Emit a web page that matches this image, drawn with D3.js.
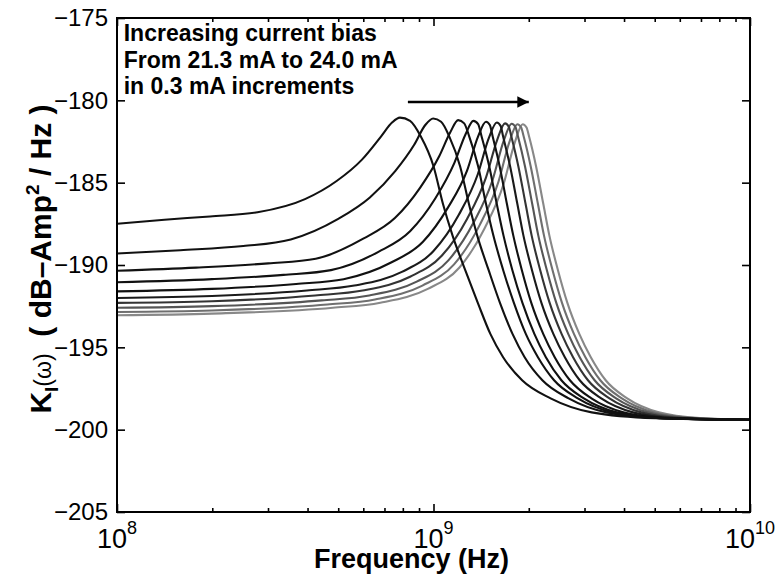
<!DOCTYPE html>
<html>
<head>
<meta charset="utf-8">
<script src="https://cdn.jsdelivr.net/npm/d3@7"></script>
<style>
  body { margin: 0; background: #fff; }
  text { font-family: Arial, "Liberation Sans", Helvetica, sans-serif; fill: #000; }
</style>
</head>
<body>
<div id="chart"></div>
<script>
// bias currents, one curve each (mA)
var biasMA = [21.3, 21.6, 21.9, 22.2, 22.5, 22.8, 23.1, 23.4, 23.7, 24.0];

// log10 of frequency (Hz) for each curve
var logFreq = [
  [8.0, 8.15, 8.294, 8.444, 8.594, 8.694, 8.774, 8.834, 8.869, 8.894, 8.926, 8.96, 9.0, 9.03, 9.06, 9.10, 9.14, 9.18, 9.22, 9.28, 9.37, 9.5, 9.7, 10],
  [8.0, 8.2, 8.399, 8.549, 8.699, 8.799, 8.879, 8.939, 8.974, 8.999, 9.024, 9.05, 9.084, 9.112, 9.138, 9.174, 9.21, 9.25, 9.288, 9.344, 9.427, 9.547, 9.724, 10],
  [8.0, 8.25, 8.478, 8.628, 8.778, 8.878, 8.958, 9.018, 9.053, 9.078, 9.097, 9.113, 9.141, 9.166, 9.189, 9.22, 9.254, 9.292, 9.33, 9.381, 9.456, 9.566, 9.719, 10],
  [8.0, 8.3, 8.526, 8.676, 8.826, 8.926, 9.006, 9.066, 9.101, 9.126, 9.141, 9.152, 9.176, 9.2, 9.221, 9.249, 9.281, 9.319, 9.355, 9.404, 9.475, 9.579, 9.718, 10],
  [8.0, 8.3, 8.566, 8.716, 8.866, 8.966, 9.046, 9.106, 9.141, 9.166, 9.178, 9.187, 9.209, 9.232, 9.252, 9.279, 9.309, 9.347, 9.383, 9.431, 9.499, 9.6, 9.731, 10],
  [8.0, 8.3, 8.6, 8.75, 8.9, 9.0, 9.08, 9.14, 9.175, 9.2, 9.212, 9.22, 9.242, 9.265, 9.284, 9.311, 9.341, 9.379, 9.415, 9.462, 9.53, 9.63, 9.76, 10],
  [8.0, 8.3, 8.626, 8.776, 8.926, 9.026, 9.106, 9.166, 9.201, 9.226, 9.238, 9.246, 9.268, 9.291, 9.31, 9.337, 9.367, 9.405, 9.441, 9.488, 9.556, 9.656, 9.786, 10],
  [8.0, 8.3, 8.647, 8.797, 8.947, 9.047, 9.127, 9.187, 9.222, 9.247, 9.259, 9.267, 9.289, 9.312, 9.331, 9.358, 9.388, 9.426, 9.462, 9.509, 9.577, 9.677, 9.807, 10],
  [8.0, 8.3, 8.665, 8.815, 8.965, 9.065, 9.145, 9.205, 9.24, 9.265, 9.277, 9.285, 9.307, 9.33, 9.349, 9.376, 9.406, 9.444, 9.48, 9.527, 9.595, 9.695, 9.825, 10],
  [8.0, 8.3, 8.682, 8.832, 8.982, 9.082, 9.162, 9.222, 9.257, 9.282, 9.294, 9.302, 9.324, 9.347, 9.366, 9.393, 9.423, 9.461, 9.497, 9.544, 9.612, 9.712, 9.842, 10]
];

// K_I(w) in dB-Amp^2/Hz, same order as logFreq
var kdB = [
  [-187.5, -187.25, -187.05, -186.8, -186.0, -184.9, -183.6, -182.2, -181.35, -181.05, -181.25, -182.2, -184.0, -186.3, -188.2, -190.3, -192.3, -194.2, -195.6, -197.0, -198.1, -198.95, -199.3, -199.4],
  [-189.3, -189.1, -188.85, -188.45, -187.2, -185.9, -184.3, -182.7, -181.5, -181.1, -181.3, -182.2, -184.0, -186.3, -188.2, -190.3, -192.3, -194.2, -195.6, -197.0, -198.1, -198.95, -199.3, -199.4],
  [-190.35, -190.16, -189.9, -189.62, -188.4, -187.15, -185.3, -183.4, -181.94, -181.2, -181.4, -182.2, -184.0, -186.3, -188.2, -190.3, -192.3, -194.2, -195.6, -197.0, -198.1, -198.95, -199.3, -199.4],
  [-191.05, -190.86, -190.6, -190.31, -189.2, -187.95, -185.95, -183.8, -182.07, -181.25, -181.45, -182.2, -184.0, -186.3, -188.2, -190.3, -192.3, -194.2, -195.6, -197.0, -198.1, -198.95, -199.3, -199.4],
  [-191.6, -191.45, -191.15, -190.86, -189.85, -188.6, -186.5, -184.27, -182.19, -181.3, -181.5, -182.2, -184.0, -186.3, -188.2, -190.3, -192.3, -194.2, -195.6, -197.0, -198.1, -198.95, -199.3, -199.4],
  [-192.0, -191.88, -191.55, -191.25, -190.42, -189.15, -186.95, -184.49, -182.28, -181.35, -181.55, -182.2, -184.0, -186.3, -188.2, -190.3, -192.3, -194.2, -195.6, -197.0, -198.1, -198.95, -199.3, -199.4],
  [-192.3, -192.2, -191.85, -191.55, -190.71, -189.44, -187.2, -184.68, -182.41, -181.4, -181.6, -182.2, -184.0, -186.3, -188.2, -190.3, -192.3, -194.2, -195.6, -197.0, -198.1, -198.95, -199.3, -199.4],
  [-192.6, -192.5, -192.15, -191.85, -191.01, -189.72, -187.41, -184.82, -182.45, -181.42, -181.62, -182.2, -184.0, -186.3, -188.2, -190.3, -192.3, -194.2, -195.6, -197.0, -198.1, -198.95, -199.3, -199.4],
  [-192.85, -192.76, -192.4, -192.09, -191.25, -189.96, -187.61, -184.96, -182.52, -181.45, -181.65, -182.2, -184.0, -186.3, -188.2, -190.3, -192.3, -194.2, -195.6, -197.0, -198.1, -198.95, -199.3, -199.4],
  [-193.05, -192.95, -192.6, -192.29, -191.45, -190.15, -187.75, -185.05, -182.55, -181.45, -181.65, -182.2, -184.0, -186.3, -188.2, -190.3, -192.3, -194.2, -195.6, -197.0, -198.1, -198.95, -199.3, -199.4]
];

var curveColors = ["#111", "#111", "#111", "#111", "#111", "#1a1a1a", "#333", "#555", "#6f6f6f", "#888"];

var yTicks = [-205, -200, -195, -190, -185, -180, -175];
var xMajor = [1e8, 1e9, 1e10];
var xMajorExp = ["8", "9", "10"];
var xMinor = [2e8, 3e8, 4e8, 5e8, 6e8, 7e8, 8e8, 9e8, 2e9, 3e9, 4e9, 5e9, 6e9, 7e9, 8e9, 9e9];

var noteLines = ["Increasing current bias", "From 21.3 mA to 24.0 mA", "in 0.3 mA increments"];

var margin = {top: 18, right: 28, bottom: 63, left: 117},
    width = 778 - margin.left - margin.right,
    height = 575 - margin.top - margin.bottom;

var x = d3.scaleLog().domain([1e8, 1e10]).range([0, width]);
var y = d3.scaleLinear().domain([-205, -175]).range([height, 0]);

var svg = d3.select("#chart").append("svg")
    .attr("width", width + margin.left + margin.right)
    .attr("height", height + margin.top + margin.bottom)
  .append("g")
    .attr("transform", "translate(" + margin.left + "," + margin.top + ")");

var series = biasMA.map(function(b, i) {
  return {
    bias: b,
    color: curveColors[i],
    points: logFreq[i].map(function(lf, j) { return {f: Math.pow(10, lf), v: kdB[i][j]}; })
  };
});

var line = d3.line()
    .x(function(d) { return x(d.f); })
    .y(function(d) { return y(d.v); })
    .curve(d3.curveMonotoneX);

// lighter (higher bias) curves go underneath
svg.selectAll(".curve")
    .data(series.slice().reverse())
  .enter().append("path")
    .attr("class", "curve")
    .attr("fill", "none")
    .attr("stroke", function(d) { return d.color; })
    .attr("stroke-width", 2.1)
    .attr("d", function(d) { return line(d.points); });

// ticks point inward, matlab style
function styleAxis(g) {
  g.select(".domain").remove();
  g.selectAll(".tick line").attr("stroke", "#000").attr("stroke-width", 1.6);
}

svg.append("g")
    .attr("transform", "translate(0," + height + ")")
    .call(d3.axisBottom(x).tickValues(xMajor).tickSize(-8).tickFormat(""))
    .call(styleAxis);
svg.append("g")
    .attr("transform", "translate(0," + height + ")")
    .call(d3.axisBottom(x).tickValues(xMinor).tickSize(-4).tickFormat(""))
    .call(styleAxis);
svg.append("g")
    .call(d3.axisTop(x).tickValues(xMajor).tickSize(-8).tickFormat(""))
    .call(styleAxis);
svg.append("g")
    .call(d3.axisTop(x).tickValues(xMinor).tickSize(-4).tickFormat(""))
    .call(styleAxis);

var yAxisG = svg.append("g")
    .call(d3.axisLeft(y).tickValues(yTicks).tickSize(-8).tickPadding(9)
      .tickFormat(function(d) { return "\u2212" + Math.abs(d); }))
    .call(styleAxis);
yAxisG.selectAll(".tick text")
    .attr("font-size", 24)
    .attr("font-family", "Arial, 'Liberation Sans', sans-serif")
    .attr("fill", "#000");

svg.append("g")
    .attr("transform", "translate(" + width + ",0)")
    .call(d3.axisRight(y).tickValues(yTicks).tickSize(-8).tickFormat(""))
    .call(styleAxis);

svg.append("rect")
    .attr("width", width)
    .attr("height", height)
    .attr("fill", "none")
    .attr("stroke", "#000")
    .attr("stroke-width", 2);

// x tick labels 10^n
var xl = svg.selectAll(".xlab")
    .data(xMajor)
  .enter().append("text")
    .attr("class", "xlab")
    .attr("x", function(d) { return x(d); })
    .attr("y", height + 36)
    .attr("text-anchor", "middle")
    .attr("font-size", 27);
xl.append("tspan").text("10");
xl.append("tspan")
    .attr("dy", -14)
    .attr("font-size", 18)
    .text(function(d, i) { return xMajorExp[i]; });

svg.append("text")
    .attr("x", width / 2 - 22)
    .attr("y", height + 56)
    .attr("text-anchor", "middle")
    .attr("font-size", 27)
    .attr("font-weight", "bold")
    .text("Frequency (Hz)");

// y label
var yl = svg.append("text")
    .attr("transform", "translate(-66," + (height / 2 - 6) + ") rotate(-90)")
    .attr("text-anchor", "middle")
    .attr("font-size", 30)
    .attr("font-weight", "bold")
    .style("white-space", "pre");
yl.append("tspan").text("K");
yl.append("tspan").attr("dy", 7).attr("font-size", 19).text("I");
yl.append("tspan").attr("dy", -7).attr("font-size", 23).attr("font-weight", "normal").text("(\u03c9)");
yl.append("tspan").text("  ( dB\u2013Amp");
yl.append("tspan").attr("dy", -12).attr("font-size", 19).text("2");
yl.append("tspan").attr("dy", 12).text(" / Hz )");

// annotation
svg.selectAll(".note")
    .data(noteLines)
  .enter().append("text")
    .attr("class", "note")
    .attr("x", x(1.05e8))
    .attr("y", function(d, i) { return y(-176.4) + i * 26.5; })
    .attr("font-size", 23)
    .attr("font-weight", "bold")
    .text(function(d) { return d; });

svg.append("defs").append("marker")
    .attr("id", "head")
    .attr("viewBox", "0 0 10 10")
    .attr("refX", 10)
    .attr("refY", 5)
    .attr("markerWidth", 5)
    .attr("markerHeight", 4.4)
    .attr("markerUnits", "strokeWidth")
    .attr("orient", "auto")
  .append("path")
    .attr("d", "M0,0L10,5L0,10z")
    .attr("fill", "#000");

svg.append("line")
    .attr("x1", x(8.3e8))
    .attr("x2", x(2.0e9))
    .attr("y1", y(-180.1))
    .attr("y2", y(-180.1))
    .attr("stroke", "#000")
    .attr("stroke-width", 2.6)
    .attr("marker-end", "url(#head)");
</script>
</body>
</html>
